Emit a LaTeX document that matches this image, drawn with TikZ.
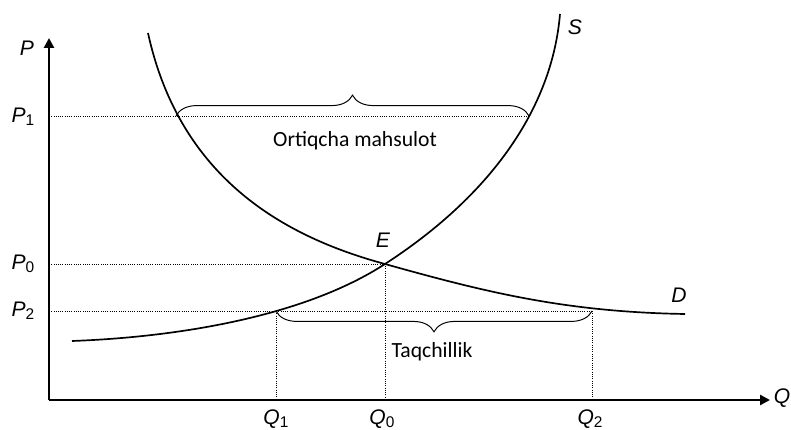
\documentclass[tikz,border=0pt]{standalone}
\usepackage{fontspec}
\setmainfont{Liberation Sans}
\newfontfamily\areafont{Carlito}
\usepackage{tikz}
\usetikzlibrary{arrows.meta, decorations.pathreplacing}
\newcommand{\lbl}[2]{#1\raisebox{-0.3ex}{\upshape\fontsize{11}{12}\selectfont #2}}
\tikzset{
  axis line/.style={
    line width=2pt, -{Triangle[length=7pt, width=7pt]}
  },
  curve line/.style={
    line width=1.2pt
  },
  guide line/.style={
    densely dotted, line width=0.6pt
  },
  brace line/.style={
    decorate, decoration={brace, amplitude=0.52cm}, line width=0.7pt
  },
  axis label/.style={
    font=\fontsize{15}{17}\selectfont\itshape, inner sep=0pt
  },
  area label/.style={
    font=\areafont\fontsize{15.4}{17}\selectfont, inner sep=0pt
  },
}

\begin{document}
\begin{tikzpicture}[x=0.025cm, y=0.025cm]
  \useasboundingbox (0,0) rectangle (791,429);

  % Axes
  \coordinate (O) at (49,29);
  \coordinate (Ptop) at (49,391);
  \coordinate (Qend) at (770,29);
  \draw[axis line] (O) -- (Ptop);
  \draw[axis line] (O) -- (Qend);

  % Points on the curves
  \coordinate (E) at (385,165);
  \coordinate (D1) at (176,313);
  \coordinate (S1) at (529,313);
  \coordinate (S2) at (276,118);
  \coordinate (D2) at (592,118);
  \coordinate (p1) at (49,313);
  \coordinate (p0) at (49,165);
  \coordinate (p2) at (49,118);
  \coordinate (q1) at (276,29);
  \coordinate (q0) at (385,29);
  \coordinate (q2) at (592,29);

  % Guide lines
  \draw[guide line] (p1) -- (S1);
  \draw[guide line] (p0) -- (E);
  \draw[guide line] (p2) -- (D2);
  \draw[guide line] (S2) -- (q1);
  \draw[guide line] (E) -- (q0);
  \draw[guide line] (D2) -- (q2);

  % Supply
  \draw[curve line] (72,88) .. controls (180,92) and (305,113) .. (E)
    .. controls (490,233) and (552,320) .. (560,415);
  % Demand
  \draw[curve line] (148,396) .. controls (180,250) and (285,192) .. (E)
    .. controls (485,137) and (565,117) .. (685,115);

  % Braces
  \draw[brace line] (D1) -- (S1);
  \draw[brace line] (D2) -- (S2);

  % Labels
  \node[axis label] (P) at (27,381) {P};
  \node[axis label] (Q) at (782,31) {Q};
  \node[axis label] (P1) at (23,312) {\lbl{P}{1}};
  \node[axis label] (P0) at (23,165) {\lbl{P}{0}};
  \node[axis label] (P2) at (23,118) {\lbl{P}{2}};
  \node[axis label] (Q1) at (276,10) {\lbl{Q}{1}};
  \node[axis label] (Q0) at (382,10) {\lbl{Q}{0}};
  \node[axis label] (Q2) at (590,10) {\lbl{Q}{2}};
  \node[axis label] (Elbl) at (383,189) {E};
  \node[axis label] (Slbl) at (575,402) {S};
  \node[axis label] (Dlbl) at (679,134) {D};
  \node[area label] (surplus) at (355,288) {Ortiqcha mahsulot};
  \node[area label] (deficit) at (432,77) {Taqchillik};

\end{tikzpicture}
\end{document}
